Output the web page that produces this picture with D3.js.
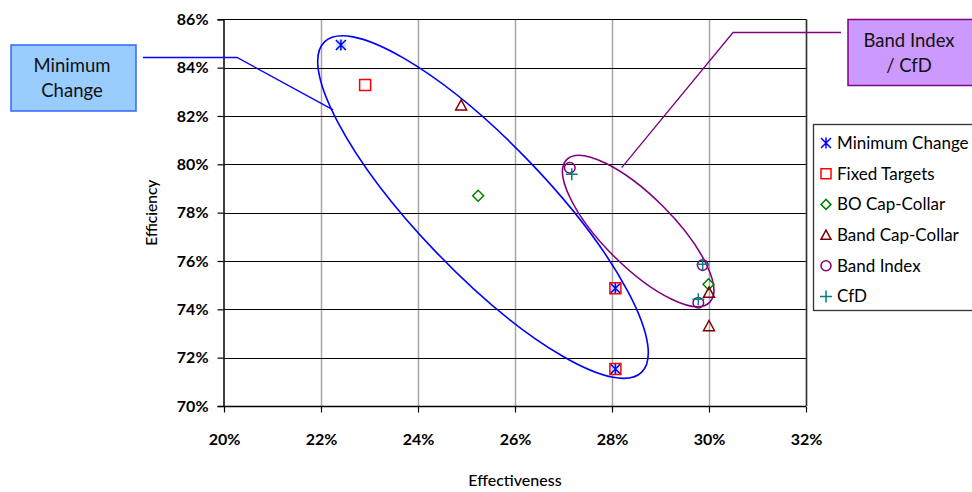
<!DOCTYPE html>
<html>
<head>
<meta charset="utf-8">
<script src="https://cdn.jsdelivr.net/npm/d3@7"></script>
<style>
  html, body { margin: 0; padding: 0; background: #fff; }
  svg { display: block; font-family: Lato, "Noto Sans", sans-serif; }
</style>
</head>
<body>
<svg id="chart" width="972" height="492"></svg>
<script>
// Tick values for both axes
const xTickValues = [0.20, 0.22, 0.24, 0.26, 0.28, 0.30, 0.32];
const yTickValues = [0.70, 0.72, 0.74, 0.76, 0.78, 0.80, 0.82, 0.84, 0.86];

// Series: effectiveness (x) and efficiency (y)
const seriesNames = ["Minimum Change", "Fixed Targets", "BO Cap-Collar", "Band Cap-Collar", "Band Index", "CfD"];
const minChangeX = [0.2241, 0.2807, 0.2807];
const minChangeY = [0.8494, 0.7487, 0.7153];
const fixedTargetsX = [0.2291, 0.2807, 0.2807];
const fixedTargetsY = [0.8328, 0.7487, 0.7153];
const boCapCollarX = [0.2524, 0.2999];
const boCapCollarY = [0.7870, 0.7504];
const bandCapCollarX = [0.2489, 0.3000, 0.3000];
const bandCapCollarY = [0.8244, 0.7469, 0.7331];
const bandIndexX = [0.2713, 0.2987, 0.2978];
const bandIndexY = [0.7986, 0.7583, 0.7427];
const cfdX = [0.2717, 0.2987, 0.2978];
const cfdY = [0.7959, 0.7586, 0.7442];

// Grouping ellipses (centre in data units) and their callout labels
const groupLabels = [["Minimum", "Change"], ["Band Index", "/ CfD"]];
const groupCentreX = [0.2534, 0.2854];
const groupCentreY = [0.7823, 0.7724];
const calloutAnchorX = [0.2225, 0.2820];
const calloutAnchorY = [0.8225, 0.7986];

const svg = d3.select("#chart");

const x = d3.scaleLinear().domain([0.20, 0.32]).range([224, 806]);
const y = d3.scaleLinear().domain([0.70, 0.86]).range([406, 19.3]);
const pct = d3.format(".0%");

// Grid
const grid = svg.append("g");
grid.selectAll("line.v").data(xTickValues.slice(1)).join("line")
  .attr("x1", d => Math.round(x(d)) + 0.5).attr("x2", d => Math.round(x(d)) + 0.5)
  .attr("y1", y(0.86)).attr("y2", y(0.70))
  .attr("stroke", "#a6a6a6").attr("stroke-width", 1.5);
grid.selectAll("line.h").data(yTickValues.slice(1)).join("line")
  .attr("x1", x(0.20)).attr("x2", x(0.32))
  .attr("y1", d => Math.round(y(d)) + 0.5).attr("y2", d => Math.round(y(d)) + 0.5)
  .attr("stroke", "#000").attr("stroke-width", 1);
// right border
svg.append("line")
  .attr("x1", x(0.32) + 0.5).attr("x2", x(0.32) + 0.5)
  .attr("y1", y(0.86)).attr("y2", y(0.70))
  .attr("stroke", "#333").attr("stroke-width", 1.5);

// Axes
const xAxis = svg.append("g")
  .attr("transform", `translate(0,${Math.round(y(0.70)) + 0.5})`)
  .call(d3.axisBottom(x).tickValues(xTickValues).tickFormat(pct).tickSize(6).tickPadding(21));
const yAxis = svg.append("g")
  .attr("transform", `translate(${Math.round(x(0.20)) - 0.5},0)`)
  .call(d3.axisLeft(y).tickValues(yTickValues).tickFormat(pct).tickSize(6).tickPadding(9));
[xAxis, yAxis].forEach(a => {
  a.select(".domain").attr("stroke", "#000").attr("stroke-width", 1.5);
  a.selectAll(".tick line").attr("stroke", "#000").attr("stroke-width", 1.2);
  a.selectAll("text").attr("font-family", "Lato, sans-serif").attr("font-size", 16)
    .attr("font-weight", "bold").attr("fill", "#000");
});
xAxis.select(".domain").attr("d", `M${x(0.20)},0H${x(0.32)}`);

svg.append("text").attr("x", (x(0.20) + x(0.32)) / 2).attr("y", 486)
  .attr("text-anchor", "middle").attr("font-size", 16).attr("font-weight", 500)
  .text("Effectiveness");
svg.append("text").attr("transform", `translate(157,${(y(0.70) + y(0.86)) / 2}) rotate(-90)`)
  .attr("text-anchor", "middle").attr("font-size", 15.5).attr("font-weight", 500)
  .text("Efficiency");

// Marker shapes
const shapes = {
  asterisk: s => `M${-s},${-s}L${s},${s}M${-s},${s}L${s},${-s}M0,${-s * 1.1}V${s * 1.1}`,
  square: s => `M${-s},${-s}H${s}V${s}H${-s}Z`,
  diamond: s => `M0,${-s}L${s},0L0,${s}L${-s},0Z`,
  triangle: s => `M0,${-s}L${s},${s * 0.85}H${-s}Z`,
  circle: s => `M${s},0A${s},${s} 0 1 1 ${-s},0A${s},${s} 0 1 1 ${s},0Z`,
  plus: s => `M${-s},0H${s}M0,${-s}V${s}`
};
const series = [
  { name: seriesNames[0], xs: minChangeX, ys: minChangeY, shape: "asterisk", size: 5, color: "#0000ff" },
  { name: seriesNames[1], xs: fixedTargetsX, ys: fixedTargetsY, shape: "square", size: 5.5, color: "#ff0000" },
  { name: seriesNames[2], xs: boCapCollarX, ys: boCapCollarY, shape: "diamond", size: 5.5, color: "#008000" },
  { name: seriesNames[3], xs: bandCapCollarX, ys: bandCapCollarY, shape: "triangle", size: 5.5, color: "#800000" },
  { name: seriesNames[4], xs: bandIndexX, ys: bandIndexY, shape: "circle", size: 5.3, color: "#800080" },
  { name: seriesNames[5], xs: cfdX, ys: cfdY, shape: "plus", size: 6, color: "#008080" }
];

// Grouping ellipses
const ellipseStyle = [
  { rx: 229, ry: 65, angle: 46.2, color: "#0000ff" },
  { rx: 101, ry: 35, angle: 45, color: "#800080" }
];
ellipseStyle.forEach((e, i) => {
  svg.append("ellipse")
    .attr("transform", `translate(${x(groupCentreX[i])},${y(groupCentreY[i])}) rotate(${e.angle})`)
    .attr("rx", e.rx).attr("ry", e.ry)
    .attr("fill", "none").attr("stroke", e.color).attr("stroke-width", 1.6);
});

// Points
series.forEach(s => {
  const g = svg.append("g");
  const pts = s.xs.map((v, i) => [v, s.ys[i]]);
  if (s.shape === "asterisk") {
    g.selectAll("rect").data(pts).join("rect")
      .attr("x", d => x(d[0]) - 5).attr("y", d => y(d[1]) - 5)
      .attr("width", 10).attr("height", 10).attr("fill", "#bfe3ff").attr("opacity", 0.8);
  }
  g.selectAll("path").data(pts).join("path")
    .attr("transform", d => `translate(${x(d[0])},${y(d[1])})`)
    .attr("d", shapes[s.shape](s.size))
    .attr("fill", "none").attr("stroke", s.color).attr("stroke-width", 1.5);
});

// Callouts
const calloutStyle = [
  { box: [11, 45, 125, 66], elbow: [237, 57.5], start: [143, 57.5], fill: "#99ccff", stroke: "#3366ff", line: "#0000ff" },
  { box: [848, 19.5, 125, 66], elbow: [733, 32.5], start: [841, 32.5], fill: "#cc99ff", stroke: "#800080", line: "#800080" }
];
calloutStyle.forEach((c, i) => {
  svg.append("path")
    .attr("d", `M${c.start[0]},${c.start[1]}L${c.elbow[0]},${c.elbow[1]}L${x(calloutAnchorX[i])},${y(calloutAnchorY[i])}`)
    .attr("fill", "none").attr("stroke", c.line).attr("stroke-width", 1.3);
  svg.append("rect")
    .attr("x", c.box[0]).attr("y", c.box[1]).attr("width", c.box[2]).attr("height", c.box[3])
    .attr("fill", c.fill).attr("stroke", c.stroke).attr("stroke-width", 1.5);
  svg.append("text")
    .attr("x", c.box[0] + 61).attr("y", c.box[1] + 21).attr("text-anchor", "middle")
    .attr("font-size", 18.5).attr("fill", "#111")
    .selectAll("tspan").data(groupLabels[i]).join("tspan")
    .attr("x", c.box[0] + 61).attr("dy", (d, j) => j === 0 ? "0.35em" : 25)
    .text(d => d);
});

// Legend
const legend = svg.append("g");
legend.append("rect").attr("x", 813.5).attr("y", 124.5).attr("width", 200).attr("height", 186)
  .attr("fill", "#fff").attr("stroke", "#333").attr("stroke-width", 1.3);
const rowY = d3.scaleLinear().domain([0, 5]).range([143, 296.5]);
series.forEach((s, i) => {
  legend.append("path")
    .attr("transform", `translate(826,${rowY(i)})`)
    .attr("d", shapes[s.shape](s.shape === "plus" ? 6 : 5))
    .attr("fill", "none").attr("stroke", s.color).attr("stroke-width", 1.5);
  legend.append("text").attr("x", 837).attr("y", rowY(i)).attr("dy", "0.35em")
    .attr("font-size", 17).attr("fill", "#000").text(s.name);
});
</script>
</body>
</html>
